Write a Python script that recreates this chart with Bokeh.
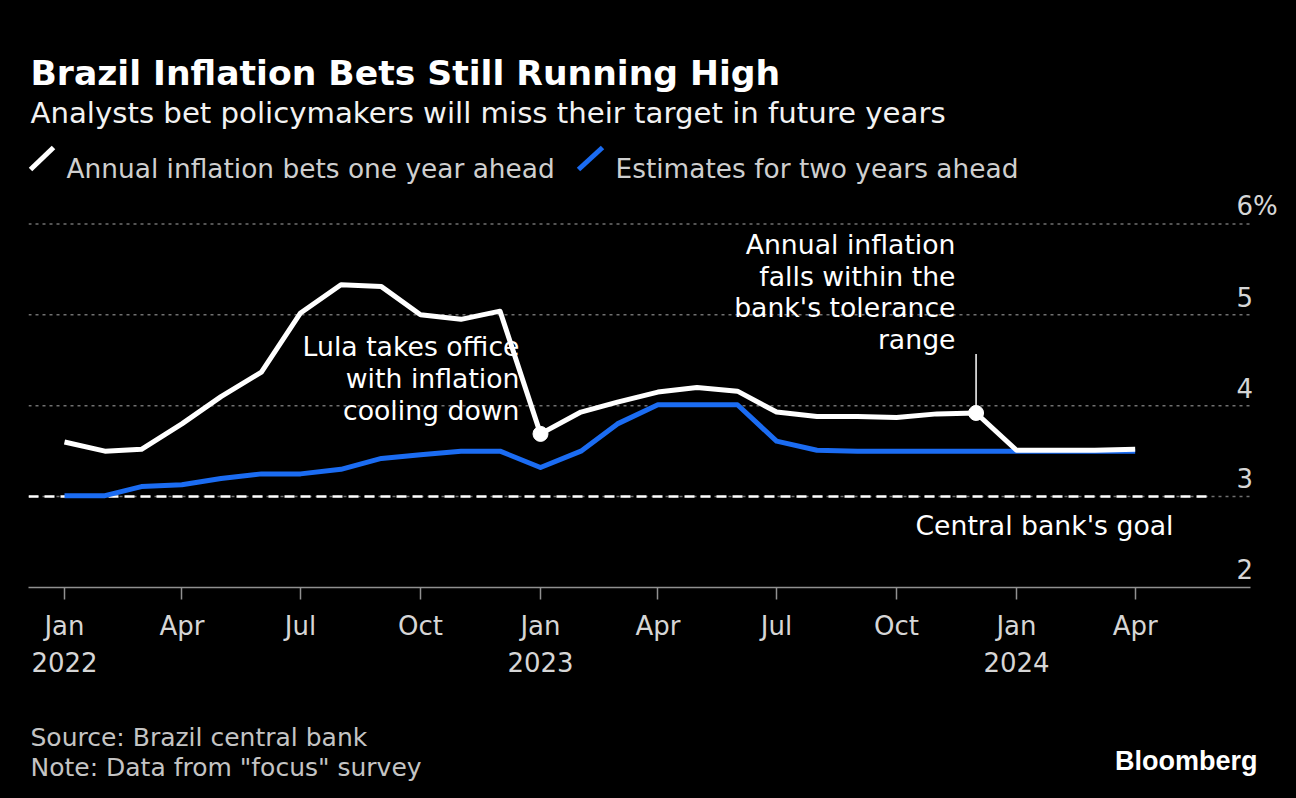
import pandas as pd
from bokeh.plotting import figure
from bokeh.layouts import column
from bokeh.models import FixedTicker, Range1d, LinearAxis
from bokeh.core.properties import value
from bokeh.embed import file_html
from bokeh.resources import INLINE

# ---------------- data ----------------
months = ["2022-01-01", "2022-02-01", "2022-03-01", "2022-04-01", "2022-05-01", "2022-06-01",
          "2022-07-01", "2022-08-01", "2022-09-01", "2022-10-01", "2022-11-01", "2022-12-01",
          "2023-01-01", "2023-02-01", "2023-03-01", "2023-04-01", "2023-05-01", "2023-06-01",
          "2023-07-01", "2023-08-01", "2023-09-01", "2023-10-01", "2023-11-01", "2023-12-01",
          "2024-01-01", "2024-02-01", "2024-03-01", "2024-04-01"]
one_year = [3.60, 3.50, 3.52, 3.80, 4.10, 4.37, 5.02, 5.33, 5.31, 5.00, 4.95, 5.04,
            3.69, 3.93, 4.04, 4.15, 4.20, 4.16, 3.93, 3.88, 3.88, 3.87, 3.91, 3.92,
            3.51, 3.51, 3.51, 3.52]
two_year = [3.01, 3.01, 3.11, 3.13, 3.20, 3.25, 3.25, 3.30, 3.42, 3.46, 3.50, 3.50,
            3.32, 3.50, 3.80, 4.01, 4.01, 4.01, 3.61, 3.51, 3.50, 3.50, 3.50, 3.50,
            3.50, 3.50, 3.50, 3.50]
goal = 3.0

tick_dates = ["2022-01-01", "2022-04-01", "2022-07-01", "2022-10-01",
              "2023-01-01", "2023-04-01", "2023-07-01", "2023-10-01",
              "2024-01-01", "2024-04-01"]
tick_labels = ["Jan", "Apr", "Jul", "Oct", "Jan", "Apr", "Jul", "Oct", "Jan", "Apr"]
year_dates = ["2022-01-01", "2023-01-01", "2024-01-01"]
year_labels = ["2022", "2023", "2024"]
y_ticks = [2, 3, 4, 5, 6]
y_labels = ["2", "3", "4", "5", "6%"]

title = "Brazil Inflation Bets Still Running High"
subtitle = "Analysts bet policymakers will miss their target in future years"
legend_labels = ["Annual inflation bets one year ahead", "Estimates for two years ahead"]
ann_lula = ["Lula takes office", "with inflation", "cooling down"]
ann_range = ["Annual inflation", "falls within the", "bank's tolerance", "range"]
goal_label = "Central bank's goal"
source_lines = ["Source: Brazil central bank", 'Note: Data from "focus" survey']
brand = "Bloomberg"


def ms(s):
    return int(pd.Timestamp(s).value // 10**6)


x = [ms(m) for m in months]
FONT = "DejaVu Sans"
WHITE = "#ffffff"
BLUE = "#1b6cf2"
GREY_TXT = "#d6d6d6"
BG = "#000000"
BLACK_CSS = {"background-color": "#000000"}

W = 1296
MAIN_H = 698
FOOT_H = 798 - MAIN_H
LEFT = 28
FRAME_BOTTOM = 587          # pixel row of the x axis line
PX_PER_UNIT = 90.9          # vertical pixels per percentage point
ORIGIN_PX = 64              # pixel column of Jan 2022
DAY_PX = 476 / 365          # horizontal pixels per day


def px_to_ms(px):
    return ms("2022-01-01") + (px - ORIGIN_PX) / DAY_PX * 86400000


x0 = px_to_ms(LEFT)
x1 = px_to_ms(W)
x_plot_end = px_to_ms(1250)
y_end = 2 + FRAME_BOTTOM / PX_PER_UNIT

p = figure(width=W, height=MAIN_H, x_range=Range1d(x0, x1), y_range=Range1d(2, y_end),
           x_axis_type=None, y_axis_type=None, toolbar_location=None,
           output_backend="svg", min_border_left=LEFT, min_border_right=0,
           min_border_top=0, min_border_bottom=MAIN_H - FRAME_BOTTOM)
p.background_fill_color = BG
p.border_fill_color = BG
p.outline_line_color = None
p.styles = BLACK_CSS
p.extra_x_ranges = {"px_x": Range1d(LEFT, W)}
p.extra_y_ranges = {"px_y": Range1d(FRAME_BOTTOM, 0)}

# dotted horizontal gridlines
grid_vals = [t for t in y_ticks if t > 2]
p.segment(x0=[x0] * len(grid_vals), y0=grid_vals, x1=[x_plot_end] * len(grid_vals),
          y1=grid_vals, line_color="#707070", line_dash="3 4", line_width=1.5)

tick_ms = [ms(d) for d in tick_dates]
ax1 = LinearAxis(ticker=FixedTicker(ticks=tick_ms, minor_ticks=[]),
                 major_label_overrides=dict(zip(tick_ms, tick_labels)),
                 bounds=(x0, x_plot_end),
                 axis_line_color="#909090", axis_line_width=1.5,
                 major_tick_line_color="#909090", major_tick_line_width=1.5,
                 major_tick_out=12, major_tick_in=0, minor_tick_out=0, minor_tick_in=0,
                 major_label_text_font=FONT, major_label_text_font_size="26px",
                 major_label_text_color=GREY_TXT, major_label_standoff=11)
year_ms = [ms(d) for d in year_dates]
ax2 = LinearAxis(ticker=FixedTicker(ticks=year_ms, minor_ticks=[]),
                 major_label_overrides=dict(zip(year_ms, year_labels)),
                 axis_line_color=None, major_tick_line_color=None,
                 major_tick_out=0, major_tick_in=0, minor_tick_out=0, minor_tick_in=0,
                 major_label_text_font=FONT, major_label_text_font_size="26px",
                 major_label_text_color=GREY_TXT, major_label_standoff=8)
p.add_layout(ax1, "below")
p.add_layout(ax2, "below")

# ---------------- header (pixel coordinates inside the frame) ----------------
hk = dict(x_range_name="px_x", y_range_name="px_y")
p.text(x=[30], y=[72], text=[title], text_font=value(FONT), text_font_style="bold",
       text_font_size="34.6px", text_color=WHITE, text_baseline="alphabetic", **hk)
p.text(x=[30], y=[112], text=[subtitle], text_font=value(FONT),
       text_font_size="29.2px", text_color="#f2f2f2", text_baseline="alphabetic", **hk)
p.segment(x0=[30, 578], y0=[169, 169], x1=[53, 602], y1=[147, 147],
          line_color=[WHITE, BLUE], line_width=5, **hk)
p.text(x=[66, 615], y=[168, 168], text=legend_labels, text_font=value(FONT),
       text_font_size="26.4px", text_color="#cfcfcf", text_baseline="alphabetic", **hk)

# ---------------- chart ----------------
ylab_x = px_to_ms(1236)
p.text(x=[ylab_x] * len(y_ticks), y=[t + 0.2 for t in y_ticks], text=y_labels,
       text_font=value(FONT), text_font_size="26px", text_color=GREY_TXT,
       text_baseline="alphabetic", text_align="left")

p.segment(x0=[x0], y0=[goal], x1=[px_to_ms(1207)], y1=[goal],
          line_color=WHITE, line_width=2.5, line_dash="10 6")
p.text(x=[px_to_ms(1173)], y=[goal - 0.318], text=[goal_label], text_font=value(FONT),
       text_font_size="26.7px", text_color=WHITE, text_align="right",
       text_baseline="alphabetic")

p.line(x, two_year, line_color=BLUE, line_width=5, line_join="round")
p.line(x, one_year, line_color=WHITE, line_width=5, line_join="round")

i_lula = months.index("2023-01-01")
i_range = months.index("2023-12-01")
p.scatter([x[i_lula], x[i_range]], [one_year[i_lula], one_year[i_range]],
          size=15, color=WHITE)
p.segment(x0=[x[i_range]], y0=[one_year[i_range]], x1=[x[i_range]], y1=[4.57],
          line_color=WHITE, line_width=1.5)

p.text(x=[px_to_ms(519)] * 3, y=[4.65 - 0.352 * i for i in range(3)], text=ann_lula,
       text_font=value(FONT), text_font_size="26.7px", text_color=WHITE,
       text_align="right", text_baseline="alphabetic")
p.text(x=[px_to_ms(955)] * 4, y=[5.77 - 0.347 * i for i in range(4)], text=ann_range,
       text_font=value(FONT), text_font_size="26.7px", text_color=WHITE,
       text_align="right", text_baseline="alphabetic")

# ---------------- footer ----------------
foot = figure(width=W, height=FOOT_H, x_range=Range1d(LEFT, W), y_range=Range1d(FOOT_H, 0),
              x_axis_type=None, y_axis_type=None, toolbar_location=None,
              output_backend="svg", min_border_left=LEFT, min_border_right=0,
              min_border_top=0, min_border_bottom=0)
foot.background_fill_color = BG
foot.border_fill_color = BG
foot.outline_line_color = None
foot.grid.visible = False
foot.styles = BLACK_CSS
foot.text(x=[30, 30], y=[39, 69], text=source_lines, text_font=value(FONT),
          text_font_size="25px", text_color="#c4c4c4", text_baseline="alphabetic")
foot.text(x=[1257], y=[62], text=[brand], text_font=value("Liberation Sans"),
          text_font_style="bold", text_font_size="27px", text_color=WHITE,
          text_align="right", text_baseline="alphabetic")

layout = column(p, foot, spacing=0, styles=BLACK_CSS)
open("out.html", "w").write(file_html(layout, INLINE))
